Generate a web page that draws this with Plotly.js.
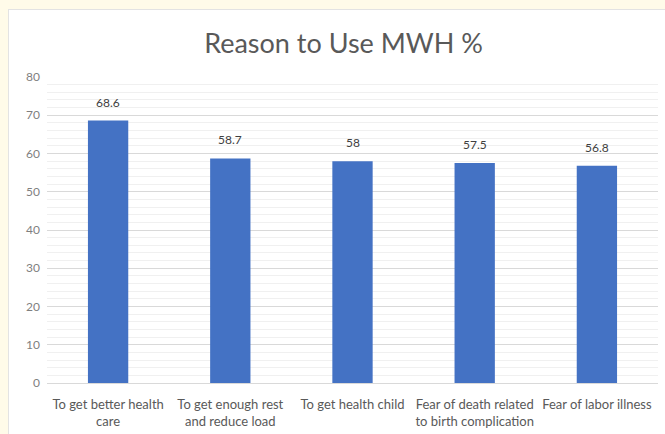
<!DOCTYPE html>
<html>
<head>
<meta charset="utf-8">
<script src="https://cdn.plot.ly/plotly-3.0.1.min.js"></script>
<style>
html,body{margin:0;padding:0;background:#fffbe9;width:665px;height:434px;overflow:hidden;}
#chart{position:absolute;left:8px;top:9px;width:657px;height:425px;background:#fff;border-left:1px solid #e3e3e3;border-top:1px solid #e3e3e3;box-sizing:border-box;}
</style>
</head>
<body>
<div id="chart"></div>
<script>
const categories = [
  "To get better health<br>care",
  "To get enough rest<br>and reduce load",
  "To get health child",
  "Fear of death related<br>to birth complication",
  "Fear of labor illness"
];
const values = [68.6, 58.7, 58, 57.5, 56.8];
const valueLabels = ["68.6", "58.7", "58", "57.5", "56.8"];
const yTicks = [0, 10, 20, 30, 40, 50, 60, 70, 80];

const fontFam = 'Lato, "Open Sans", sans-serif';

const trace = {
  type: 'bar',
  x: categories,
  y: values,
  marker: {color: '#4472c4'},
  hoverinfo: 'none'
};

const annotations = categories.map((c, i) => ({
  x: c, y: values[i], xref: 'x', yref: 'y',
  text: valueLabels[i], showarrow: false,
  yanchor: 'bottom', yshift: 9,
  font: {family: fontFam, size: 12, color: '#404040'}
}));

const layout = {
  width: 656, height: 424,
  margin: {l: 38, r: 7, t: 67, b: 51},
  paper_bgcolor: 'rgba(0,0,0,0)',
  plot_bgcolor: '#ffffff',
  bargap: 0.67,
  showlegend: false,
  font: {family: fontFam, color: '#595959', size: 12},
  title: {
    text: 'Reason to Use MWH %',
    font: {family: fontFam, size: 27, color: '#595959'},
    x: 0.51, xanchor: 'center', y: 0.92, yanchor: 'middle'
  },
  annotations: annotations,
  xaxis: {
    type: 'category',
    showgrid: false,
    showline: true, linecolor: '#d9d9d9', linewidth: 1,
    ticks: '',
    tickfont: {size: 13, color: '#595959'},
    ticklabelstandoff: 9
  },
  yaxis: {
    range: [0, 80],
    tickvals: yTicks,
    ticktext: yTicks.map(String),
    showgrid: true, gridcolor: '#d9d9d9', gridwidth: 1,
    zeroline: false,
    showline: false,
    ticks: '',
    tickfont: {size: 12, color: '#7f7f7f'},
    ticklabelstandoff: 6,
    minor: {dtick: 2, tick0: 0, showgrid: true, gridcolor: '#f0f0f0', gridwidth: 1, ticks: ''}
  }
};

Plotly.newPlot('chart', [trace], layout, {staticPlot: true, displayModeBar: false});
</script>
</body>
</html>
